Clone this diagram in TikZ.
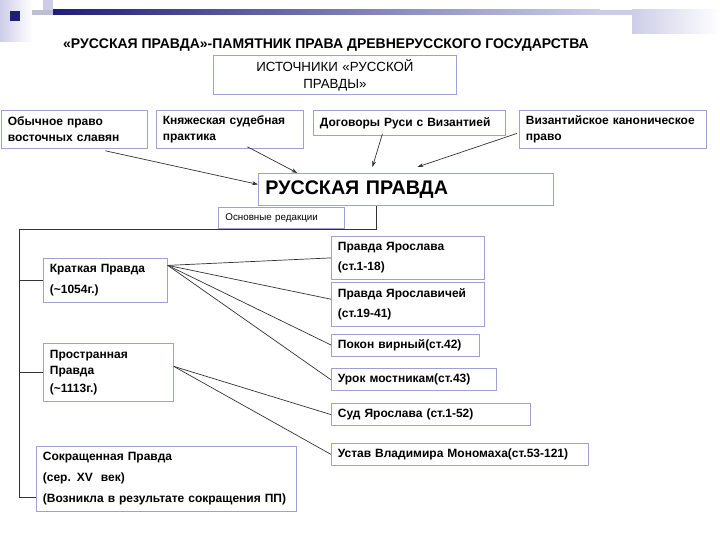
\documentclass[tikz,border=0pt]{standalone}
\usepackage{fontspec}
\setmainfont{Liberation Sans}
\usetikzlibrary{positioning}
\usetikzlibrary{arrows.meta}

\definecolor{boxline}{RGB}{160,160,210}
\definecolor{navy}{RGB}{30,30,120}
\definecolor{lav}{RGB}{205,205,232}

\begin{document}
\begin{tikzpicture}[x=1pt, y=-1pt, >={Stealth[length=6pt,width=4pt]},
    box/.style={draw=boxline, line width=0.8pt, fill=white, anchor=north west, align=left, inner xsep=6.5pt, inner ysep=0pt, font=\bfseries\fontsize{12}{16}\selectfont},
    ed/.style={box, font=\bfseries\fontsize{12}{21}\selectfont},
    art/.style={box, font=\bfseries\fontsize{12}{20}\selectfont},
    link/.style={draw=black!80, line width=0.7pt}]
    \useasboundingbox (0,0) rectangle (720,540);

    % top decoration
    \shade[left color=lav, right color=white] (0,0) rectangle (32,42);
    \fill[lav] (43,0) rectangle (53,15);
    \fill[lav!80!gray] (32,10) rectangle (53,15);
    \shade[left color=navy, right color=lav] (53,10) rectangle (600,15);
    \fill[lav] (600,10) rectangle (632,15);
    \shade[left color=lav, right color=white] (632,10) rectangle (720,34);
    \fill[navy] (10,11) rectangle (20,21);

    \node[font=\bfseries\fontsize{14}{16}\selectfont] (title) at (326,45) {«РУССКАЯ ПРАВДА»-ПАМЯТНИК ПРАВА ДРЕВНЕРУССКОГО ГОСУДАРСТВА};
    \node[box, align=center, text width=230pt, minimum height=39pt, font=\fontsize{13.3}{17}\selectfont] (Istoch) at (213,55) {ИСТОЧНИКИ «РУССКОЙ\\ПРАВДЫ»};

    \node[box, text width=133pt, minimum height=38pt] (Obych) at (1,110) {Обычное право\\восточных славян};
    \node[box, text width=134pt, minimum height=38pt] (Knyaz) at (156,110) {Княжеская судебная\\практика};
    \node[box, text width=179pt, minimum height=25pt] (Dogovor) at (313,110) {Договоры Руси с Византией};
    \node[box, text width=174pt, minimum height=38pt] (Vizant) at (519,110) {Византийское каноническое\\право};

    \node[box, text width=281pt, minimum height=32pt, inner xsep=7pt, font=\bfseries\fontsize{19.7}{22}\selectfont] (RP) at (258,173) {РУССКАЯ ПРАВДА};

    % main tree
    \coordinate (fork) at (19,229);
    \draw[link] ([xshift=-29.5pt]RP.south) |- (fork) |- (19,497) -- ++(17,0);

    \node[box, text width=112pt, minimum height=21pt, inner xsep=7pt, font=\fontsize{9.8}{11}\selectfont] (Osn) at (218,207) {Основные редакции};

    \node[ed, text width=111pt, minimum height=44pt] (Kratk) at (43,258) {Краткая Правда\\(\textasciitilde1054г.)};
    \node[box, text width=117pt, minimum height=58pt] (Prostr) at (43,343) {Пространная\\Правда\\[2pt](\textasciitilde1113г.)};
    \node[ed, text width=247pt, minimum height=65pt] (Sokr) at (36,446) {Сокращенная Правда\\(сер. XV\ \ век)\\(Возникла в результате сокращения ПП)};

    \draw[link] (fork) |- (Kratk.west);
    \draw[link] (fork) |- (Prostr.west);

    \node[art, text width=140pt, minimum height=43pt] (PrYar) at (331,236) {Правда Ярослава\\(ст.1-18)};
    \node[art, text width=140pt, minimum height=44pt] (PrYarich) [below=2pt of PrYar] {Правда Ярославичей\\(ст.19-41)};
    \node[box, text width=135pt, minimum height=22pt] (Pokon) [below=7pt of PrYarich.south west, anchor=north west] {Покон вирный(ст.42)};
    \node[box, text width=152pt, minimum height=22pt] (Urok) [below=12pt of Pokon.south west, anchor=north west] {Урок мостникам(ст.43)};
    \node[box, text width=186pt, minimum height=22pt] (Sud) [below=12pt of Urok.south west, anchor=north west] {Суд Ярослава (ст.1-52)};
    \node[box, text width=244pt, minimum height=22pt] (Ustav) [below=17pt of Sud.south west, anchor=north west] {Устав Владимира Мономаха(ст.53-121)};

    % sources into the Pravda
    \draw[link, ->] ([xshift=31pt, yshift=-2pt]Obych.south) -- ([yshift=5pt]RP.west);
    \draw[link, ->] ([xshift=17.5pt, yshift=2pt]Knyaz.south) -- ([xshift=-108.5pt]RP.north);
    \draw[link, ->] ([xshift=-27pt, yshift=2pt]Dogovor.south) -- ([xshift=-33.5pt, yshift=6pt]RP.north);
    \draw[link, ->] ([xshift=-2pt, yshift=-4pt]Vizant.west) -- ([xshift=11.5pt, yshift=6pt]RP.north);

    % editions to articles
    \draw[link] ([yshift=15pt]Kratk.east) -- (PrYar.west);
    \draw[link] ([yshift=15pt]Kratk.east) -- ([yshift=5pt]PrYarich.west);
    \draw[link] ([yshift=15pt]Kratk.east) -- (Pokon.west);
    \draw[link] ([yshift=15pt]Kratk.east) -- (Urok.west);
    \draw[link] ([yshift=6pt]Prostr.east) -- (Sud.west);
    \draw[link] ([yshift=6pt]Prostr.east) -- (Ustav.west);
\end{tikzpicture}
\end{document}
